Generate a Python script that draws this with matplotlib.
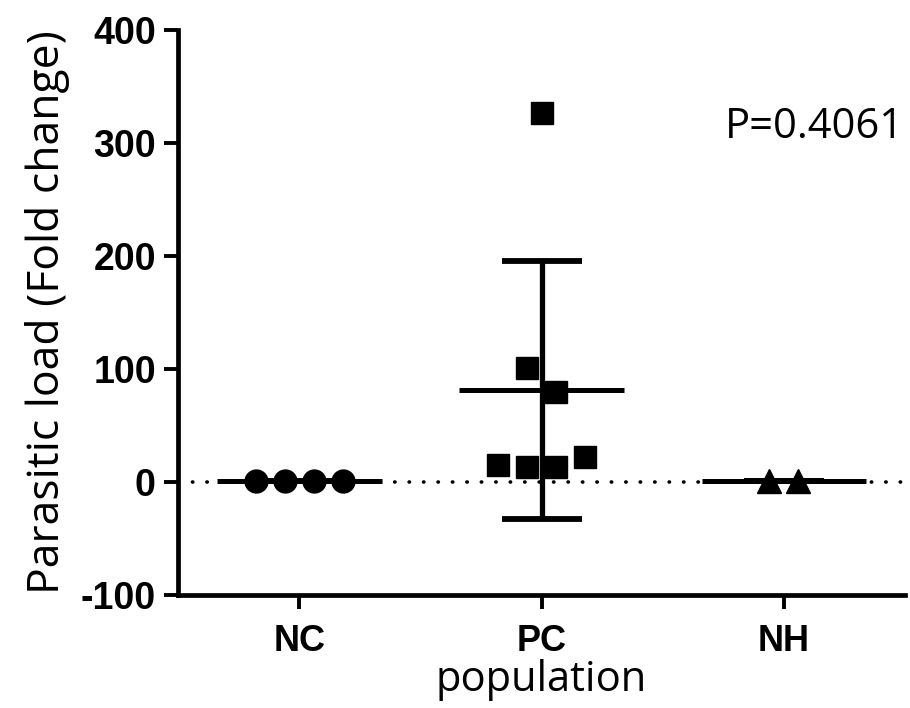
import numpy as np
import matplotlib
matplotlib.use('Agg')
import matplotlib.pyplot as plt

plt.rcParams['axes.unicode_minus'] = False

# groups and fold change values
categories = ['NC', 'PC', 'NH']
nc_values = [1.0, 1.0, 1.0, 1.0]
pc_values = [327, 101, 80, 15, 13, 13, 22]
nh_values = [1.0, 1.0]
p_text = 'P=0.4061'

groups = [nc_values, pc_values, nh_values]
markers = ['o', 's', '^']
msizes = [16.5, 16, 17]


# spread points that sit close together side by side, like a dot plot
def spread(values, step=0.12, close=30):
    clusters = []
    for i, v in enumerate(values):
        for c in clusters:
            if abs(values[c[0]] - v) < close:
                c.append(i)
                break
        else:
            clusters.append([i])
    offs = np.zeros(len(values))
    for c in clusters:
        n = len(c)
        for k, idx in enumerate(c):
            offs[idx] = (k - (n - 1) / 2) * step
    return offs


fig = plt.figure(figsize=(9.1, 7.08), dpi=100)
ax = fig.add_axes([0.1956, 0.1596, 0.799, 0.798])

ax.axhline(0, color='black', lw=2.6, ls=(0, (0.1, 3.9)),
           dash_capstyle='round', zorder=1)

for i, vals in enumerate(groups):
    vals = np.array(vals, dtype=float)
    x = i + spread(list(vals))
    m = vals.mean()
    sd = vals.std(ddof=1)
    ax.plot([i - 0.34, i + 0.34], [m, m], color='black', lw=3.6,
            solid_capstyle='butt', zorder=3)
    ax.errorbar(i, m, yerr=sd, fmt='none', ecolor='black', elinewidth=3.8,
                capsize=29, capthick=4.2, zorder=3)
    ax.plot(x, vals, ls='none', marker=markers[i], ms=msizes[i],
            color='black', zorder=4)

ax.set_xlim(-0.5, 2.5)
ax.set_ylim(-100, 400)
ax.set_yticks([-100, 0, 100, 200, 300, 400])
ax.set_xticks(range(len(categories)))
ax.set_xticklabels(categories)

for s in ['top', 'right']:
    ax.spines[s].set_visible(False)
for s in ['left', 'bottom']:
    ax.spines[s].set_linewidth(3.4)
ax.tick_params(axis='both', direction='out', length=10, width=2.8, pad=6)

for lab in ax.get_yticklabels():
    lab.set_fontfamily('Liberation Sans')
    lab.set_fontweight('bold')
    lab.set_fontsize(27)
for lab in ax.get_xticklabels():
    lab.set_fontfamily('Liberation Sans')
    lab.set_fontweight('bold')
    lab.set_fontsize(26)
ax.tick_params(axis='x', pad=11)

ax.set_ylabel('Parasitic load (Fold change)', fontfamily='Open Sans',
              fontsize=32, labelpad=8)
ax.set_xlabel('population', fontfamily='Open Sans', fontsize=30, labelpad=0)

ax.text(0.999, 0.828, p_text, transform=ax.transAxes, ha='right', va='center',
        fontfamily='Open Sans', fontsize=30)

fig.savefig('out.png', dpi=100)
